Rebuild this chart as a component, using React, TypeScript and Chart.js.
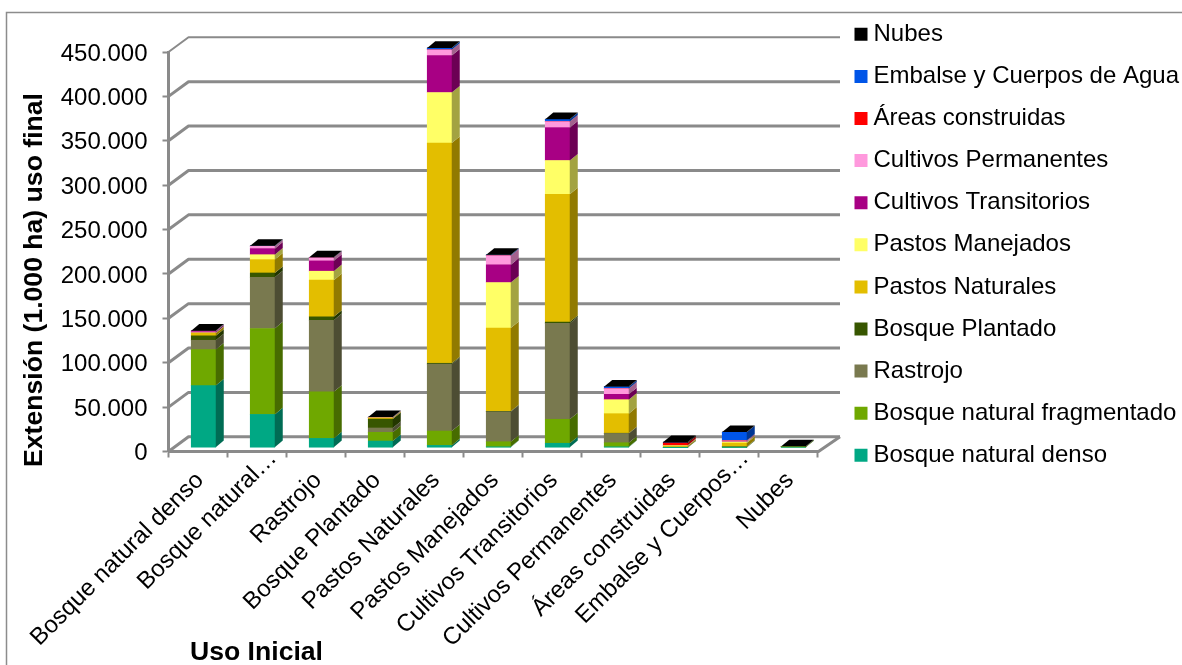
import React, { useEffect, useRef } from "react";
import { Chart, registerables } from "chart.js";

Chart.register(...registerables);

const categories = [
  "Bosque natural denso",
  "Bosque natural…",
  "Rastrojo",
  "Bosque Plantado",
  "Pastos Naturales",
  "Pastos Manejados",
  "Cultivos Transitorios",
  "Cultivos Permanentes",
  "Áreas construidas",
  "Embalse y Cuerpos…",
  "Nubes",
];

const bosqueDenso = [70000, 37500, 10500, 7500, 2600, 1000, 5000, 1000, 100, 300, 500];
const bosqueFragmentado = [40500, 96800, 52500, 9800, 16200, 5700, 27000, 4600, 200, 500, 700];
const rastrojo = [10500, 57700, 80600, 4900, 75300, 33800, 108000, 10400, 100, 300, 100];
const bosquePlantado = [5000, 4800, 3800, 10000, 1000, 500, 1500, 300, 0, 100, 0];
const pastosNaturales = [2800, 15000, 41300, 1200, 248000, 93800, 144000, 22000, 1500, 4000, 0];
const pastosManejados = [700, 5600, 10100, 300, 57000, 51300, 38000, 15800, 500, 1200, 0];
const cultivosTransitorios = [1200, 6800, 11600, 300, 41600, 19900, 37000, 6000, 200, 300, 0];
const cultivosPermanentes = [600, 2600, 3400, 200, 6400, 10200, 6750, 6400, 100, 1000, 0];
const areasConstruidas = [100, 100, 100, 50, 100, 100, 100, 100, 2500, 300, 0];
const embalse = [100, 300, 300, 50, 1900, 800, 2500, 2000, 100, 9400, 0];
const nubes = [300, 200, 200, 200, 200, 200, 200, 200, 1000, 200, 200];

const yTicksMax = 450000;
const yTicksStep = 50000;
const yTitle = "Extensión (1.000 ha) uso final";
const xTitle = "Uso Inicial";

const GRAY = "#8a8a8a";
const FONT = "'Liberation Sans', Arial, sans-serif";

// 3D look
const WALL_DX = 20;
const WALL_DY = -14.7;
const WALL_RIGHT = 840;
const BAR_DX = 5.5;
const BAR_DY = -3.8;
const SIDE_DX = 8;
const SIDE_DY = -6.6;

function darken(hex: string, f: number) {
  const n = parseInt(hex.slice(1), 16);
  const r = Math.round(((n >> 16) & 255) * f);
  const g = Math.round(((n >> 8) & 255) * f);
  const b = Math.round((n & 255) * f);
  return `rgb(${r},${g},${b})`;
}

const series: [string, number[], string][] = [
  ["Bosque natural denso", bosqueDenso, "#00A884"],
  ["Bosque natural fragmentado", bosqueFragmentado, "#6FA800"],
  ["Rastrojo", rastrojo, "#79794F"],
  ["Bosque Plantado", bosquePlantado, "#375600"],
  ["Pastos Naturales", pastosNaturales, "#E3BE00"],
  ["Pastos Manejados", pastosManejados, "#FFFF66"],
  ["Cultivos Transitorios", cultivosTransitorios, "#A80084"],
  ["Cultivos Permanentes", cultivosPermanentes, "#FF99DD"],
  ["Áreas construidas", areasConstruidas, "#FF0000"],
  ["Embalse y Cuerpos de Agua", embalse, "#0055E8"],
  ["Nubes", nubes, "#000000"],
];

const scene3d = {
  id: "scene3d",
  afterLayout(chart: any) {
    chart.legend.top = 4.2;
    chart.legend.left = 842.4;
  },
  beforeDraw(chart: any) {
    const ctx = chart.ctx;
    ctx.save();
    ctx.fillStyle = "#fff";
    ctx.fillRect(0, 0, chart.width, chart.height);
    ctx.strokeStyle = "#8c8c8c";
    ctx.lineWidth = 1.5;
    ctx.strokeRect(6.5, 12.5, chart.width + 20, chart.height + 20);
    ctx.restore();
    // nudge the library's tick labels onto the reference's text positions
    const { x, y } = chart.scales;
    y.getLabelItems(chart.chartArea).forEach((it: any) => {
      it.options.translation[1] += 2;
    });
    x.getLabelItems(chart.chartArea).forEach((it: any) => {
      const cut = String(it.label).endsWith("…");
      it.options.translation[0] += cut ? 16 : 2;
      it.options.translation[1] += cut ? -17 : 5;
    });
  },
  beforeDatasetsDraw(chart: any) {
    const ctx = chart.ctx;
    const { x, y } = chart.scales;
    ctx.save();
    ctx.strokeStyle = GRAY;
    ctx.lineJoin = "round";
    // back wall and side wall grid lines
    y.ticks.forEach((t: any, i: number) => {
      const py = y.getPixelForTick(i);
      ctx.lineWidth = t.value === yTicksMax ? 2 : 3;
      ctx.beginPath();
      ctx.moveTo(x.left, py);
      ctx.lineTo(x.left + WALL_DX, py + WALL_DY);
      ctx.lineTo(WALL_RIGHT, py + WALL_DY);
      ctx.stroke();
    });
    // floor
    const b = y.getPixelForValue(0);
    ctx.lineWidth = 3;
    ctx.beginPath();
    ctx.moveTo(x.left, b);
    ctx.lineTo(x.right + 1, b);
    ctx.lineTo(WALL_RIGHT, b + WALL_DY);
    ctx.stroke();
    ctx.restore();
    // bars stand inside the depth of the floor
    ctx.save();
    ctx.translate(BAR_DX, BAR_DY);
  },
  afterDatasetsDraw(chart: any) {
    const ctx = chart.ctx;
    const metas = chart.getSortedVisibleDatasetMetas();
    metas.forEach((meta: any, di: number) => {
      const col = series[meta.index][2];
      meta.data.forEach((el: any) => {
        const { x, y, base, width } = el.getProps(["x", "y", "base", "width"], true);
        const r = x + width / 2;
        const l = x - width / 2;
        ctx.fillStyle = darken(col, 0.64);
        ctx.beginPath();
        ctx.moveTo(r, y);
        ctx.lineTo(r + SIDE_DX, y + SIDE_DY);
        ctx.lineTo(r + SIDE_DX, base + SIDE_DY);
        ctx.lineTo(r, base);
        ctx.closePath();
        ctx.fill();
        if (di === metas.length - 1) {
          ctx.fillStyle = col;
          ctx.beginPath();
          ctx.moveTo(l, y);
          ctx.lineTo(l + SIDE_DX, y + SIDE_DY);
          ctx.lineTo(r + SIDE_DX, y + SIDE_DY);
          ctx.lineTo(r, y);
          ctx.closePath();
          ctx.fill();
        }
      });
    });
    ctx.restore();
  },
  afterDraw(chart: any) {
    const ctx = chart.ctx;
    ctx.save();
    ctx.fillStyle = "#000";
    ctx.font = `bold 26.6px ${FONT}`;
    ctx.textAlign = "center";
    ctx.textBaseline = "middle";
    ctx.fillText(chart.scales.x.options.title.text, 256.5, 652.5);
    ctx.translate(35, 280);
    ctx.rotate(-Math.PI / 2);
    ctx.fillText(chart.scales.y.options.title.text, 0, 0);
    ctx.restore();
  },
};

export default function App() {
  const ref = useRef<HTMLCanvasElement>(null);
  useEffect(() => {
    document.body.style.margin = "0";
    const chart = new Chart(ref.current!, {
      type: "bar",
      data: {
        labels: categories,
        datasets: series.map(([label, data, color]) => ({
          label,
          data,
          backgroundColor: color,
          borderWidth: 0,
          barThickness: 24.5,
          clip: false as any,
        })),
      },
      options: {
        responsive: false,
        animation: false,
        layout: { padding: { top: 52, left: 0, right: 0, bottom: 0 } },
        plugins: {
          tooltip: { enabled: false },
          title: { display: false },
          legend: {
            position: "right",
            align: "start",
            reverse: true,
            labels: {
              usePointStyle: true,
              pointStyle: "rect",
              boxWidth: 1,
              boxHeight: 13,
              padding: 18.1,
              color: "#000",
              font: { family: FONT, size: 24 },
            },
          },
        },
        scales: {
          x: {
            stacked: true,
            afterFit: (s: any) => {
              s.height = 665 - 451.5;
            },
            title: { display: false, text: xTitle },
            grid: {
              drawOnChartArea: false,
              offset: true,
              color: GRAY,
              tickLength: 6,
              tickWidth: 2,
              tickColor: GRAY,
            },
            border: { display: false },
            ticks: {
              autoSkip: false,
              minRotation: 45,
              maxRotation: 45,
              padding: 4,
              color: "#000",
              font: { family: FONT, size: 24 },
            },
          },
          y: {
            stacked: true,
            min: 0,
            max: yTicksMax,
            afterFit: (s: any) => {
              s.width = 168.5;
            },
            title: { display: false, text: yTitle },
            grid: {
              drawOnChartArea: false,
              color: GRAY,
              tickLength: 6,
              tickWidth: 2,
              tickColor: GRAY,
            },
            border: { display: true, color: GRAY, width: 3 },
            ticks: {
              stepSize: yTicksStep,
              padding: 15,
              color: "#000",
              font: { family: FONT, size: 24 },
              callback: (v: any) => String(v).replace(/\B(?=(\d{3})+$)/g, "."),
            },
          },
          spacer: {
            position: "right",
            display: true,
            afterFit: (s: any) => {
              s.width = Math.max(0, 1182 - 817.5 - s.chart.legend.width);
            },
            grid: { display: false },
            border: { display: false },
            ticks: { display: false },
          },
        } as any,
      },
      plugins: [scene3d],
    });
    return () => chart.destroy();
  }, []);
  return (
    <div style={{ position: "absolute", left: 0, top: 0, width: 1182, height: 665 }}>
      <canvas ref={ref} width={1182} height={665} style={{ display: "block" }} />
    </div>
  );
}
